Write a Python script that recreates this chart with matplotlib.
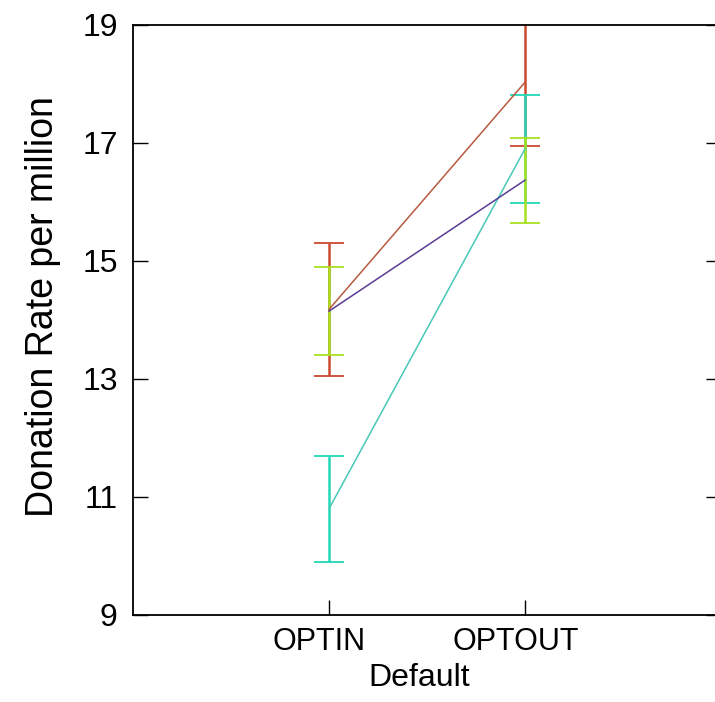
import matplotlib
matplotlib.use("Agg")
import matplotlib.pyplot as plt
from matplotlib.transforms import ScaledTranslation

plt.rcParams['font.family'] = ['Liberation Sans', 'DejaVu Sans']

defaults = ['OPTIN', 'OPTOUT']
red_mean = [14.18, 18.03]
red_err = [1.13, 1.08]
purple_mean = [14.15, 16.37]
purple_err = [0.74, 0.72]
cyan_mean = [10.80, 16.90]
cyan_err = [0.90, 0.92]
yticks = [9, 11, 13, 15, 17, 19]

fig = plt.figure(figsize=(7.15, 7.02), dpi=100)
ax = fig.add_axes([133/715, 1 - 615/702, 588/715, 590/702])

x = [1, 2]
series = [
    (red_mean, red_err, '#b85a40', '#cc4a30'),
    (cyan_mean, cyan_err, '#48c8b8', '#22d8b8'),
    (purple_mean, purple_err, '#5a3c96', '#a8e020'),
]
# error bars
for mean, err, lc, bc in series:
    ax.errorbar(x, mean, yerr=err, fmt='none', ecolor=bc, elinewidth=1.8,
                capsize=11, capthick=1.3, zorder=2)
# lines
for mean, err, lc, bc in series:
    ax.plot(x, mean, color=lc, lw=1.1, zorder=3)

ax.set_xlim(0, 3)
ax.set_ylim(9, 19)
ax.set_xticks(x)
ax.set_xticklabels(defaults)
ax.set_yticks(yticks)
ax.tick_params(axis='y', direction='in', length=11, width=1.0, left=True,
               right=True, labelsize=23, pad=11, colors='black')
ax.tick_params(axis='x', direction='in', length=11, width=1.0, top=False,
               labelsize=22, pad=9)
shift = ScaledTranslation(-7/72, 0, fig.dpi_scale_trans)
for tick in ax.xaxis.get_major_ticks():
    tick.label1.set_transform(tick.label1.get_transform() + shift)
for s in ax.spines.values():
    s.set_linewidth(1.3)
ax.set_xlabel('Default', fontsize=23, labelpad=4, x=0.486)
ax.set_ylabel('Donation Rate per million', fontsize=27, labelpad=15, y=0.522)

fig.savefig('out.png', dpi=100)
